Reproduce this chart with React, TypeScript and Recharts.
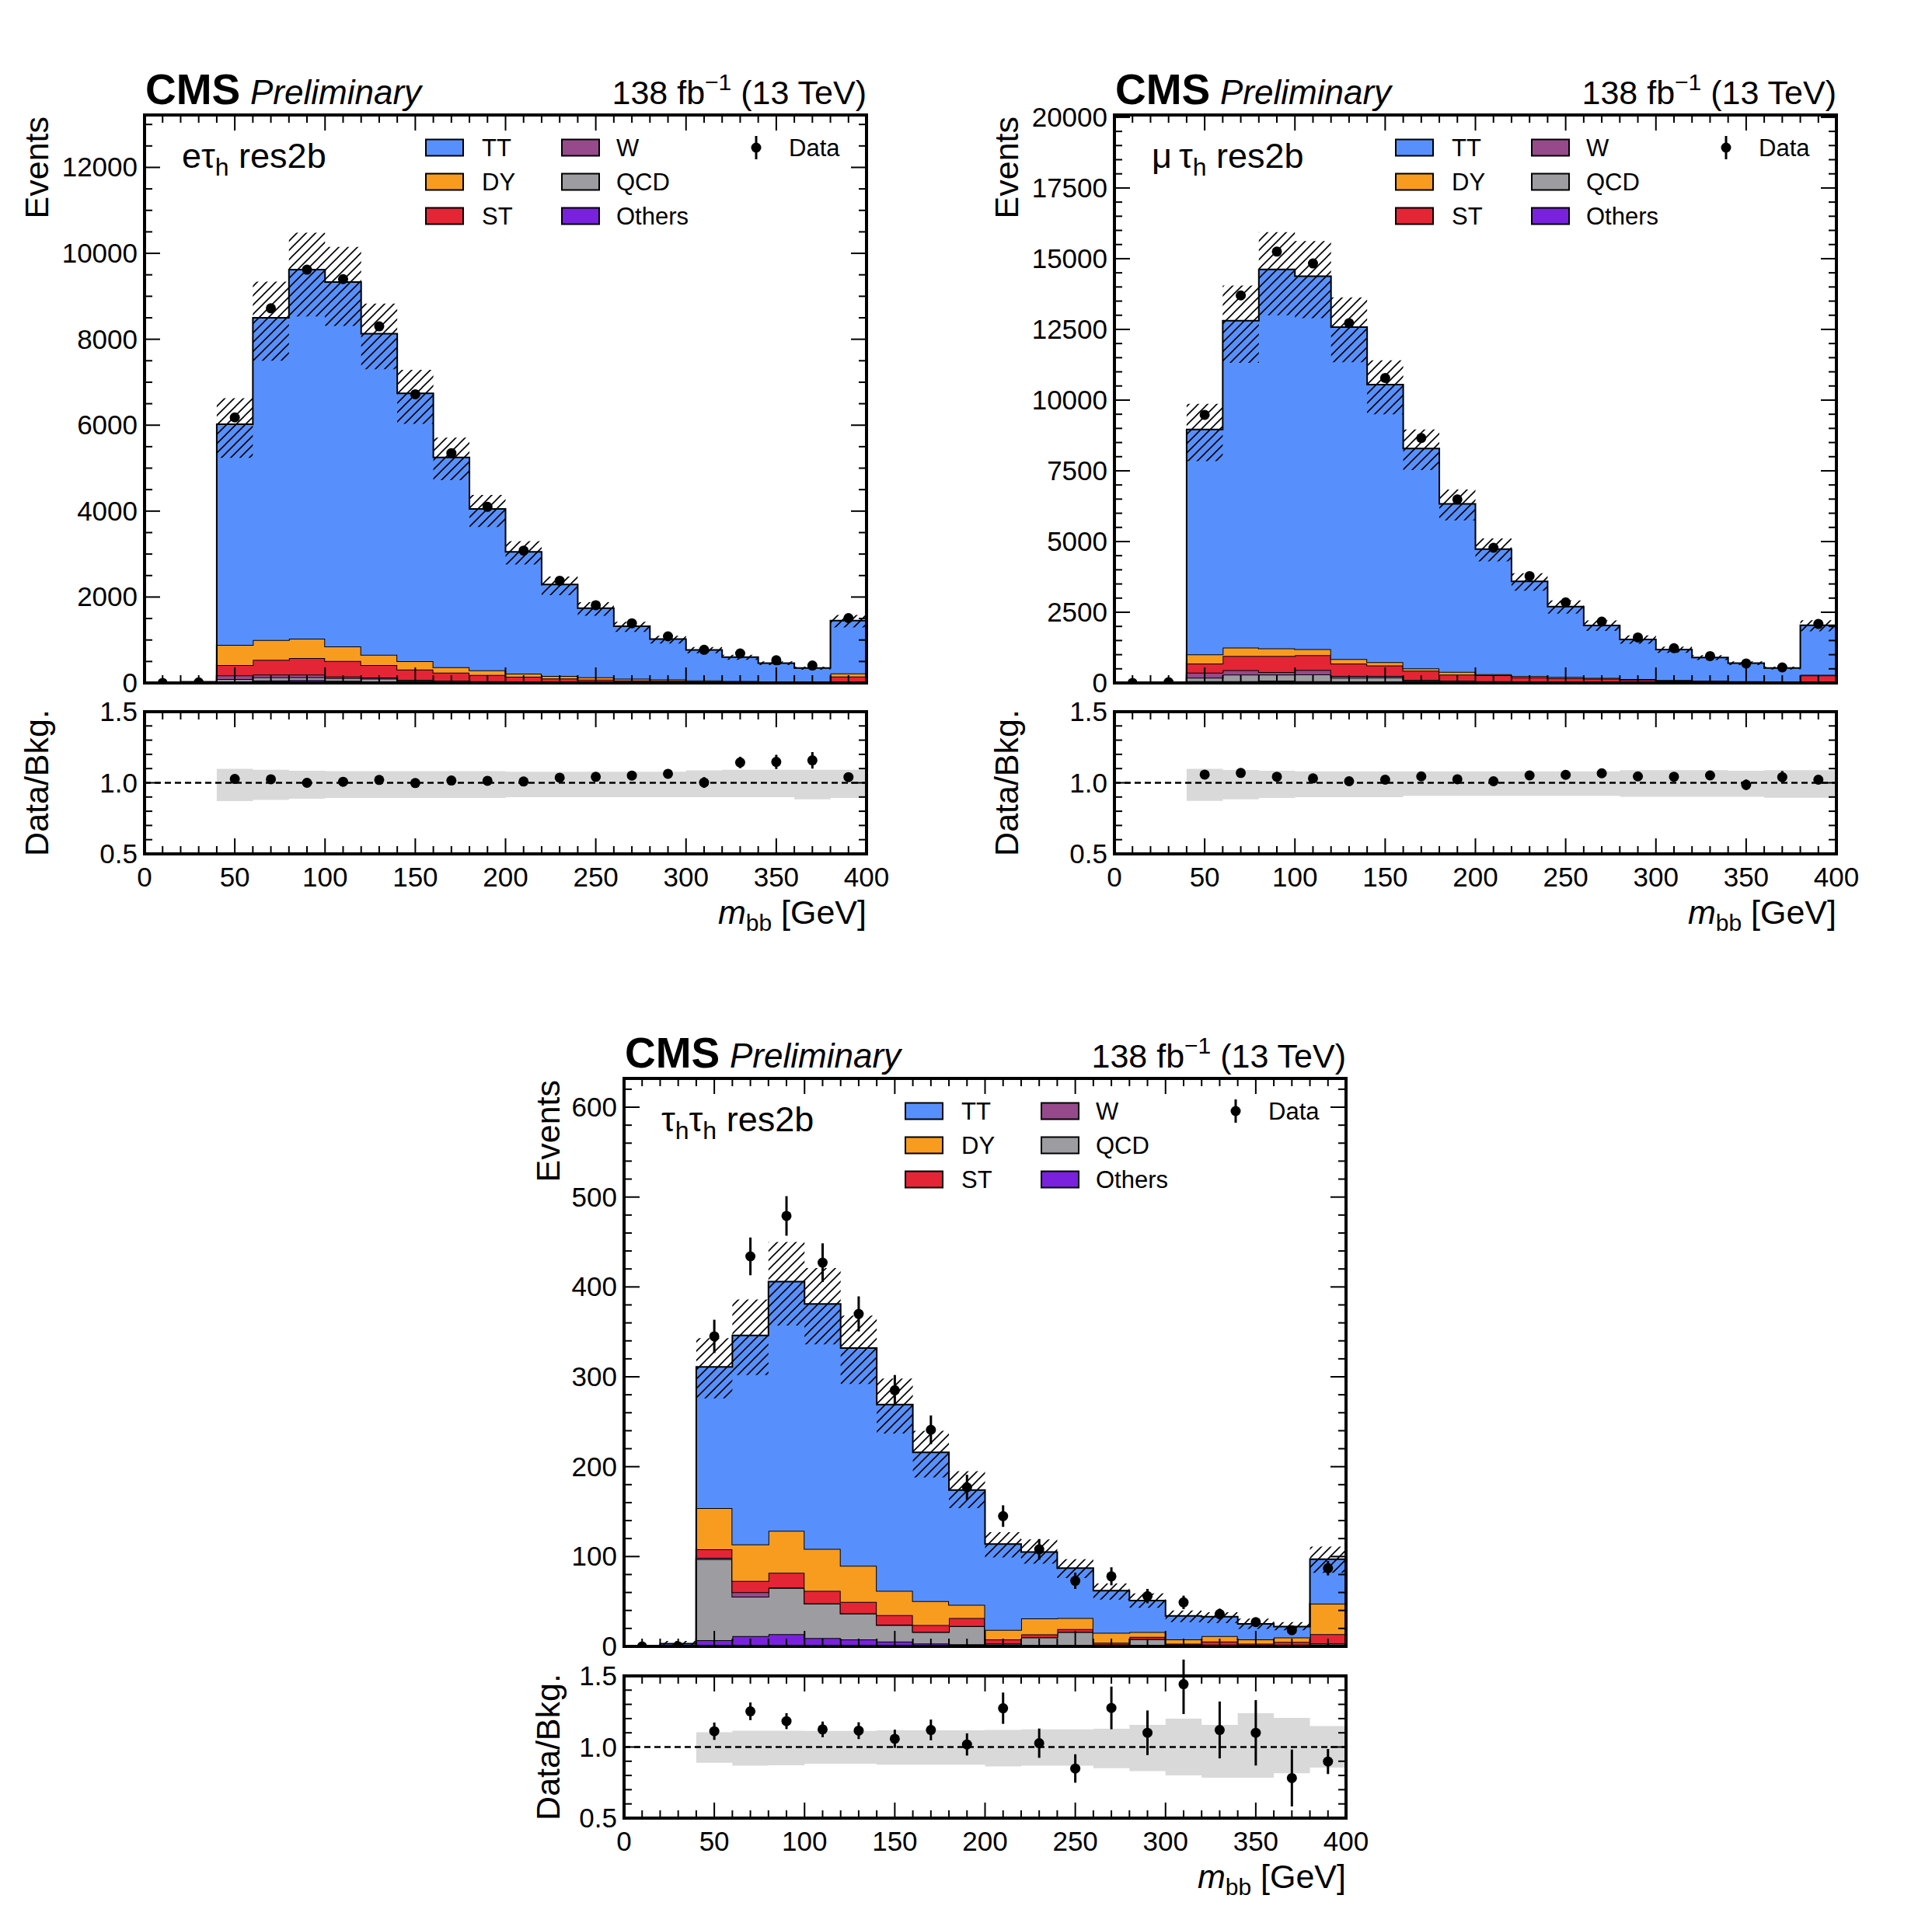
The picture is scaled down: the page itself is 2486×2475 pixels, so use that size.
import React from "react";
import { Area, ComposedChart, ErrorBar, ReferenceLine, Scatter, XAxis, YAxis } from "recharts";

const FONT = '"Liberation Sans", Arial, Helvetica, sans-serif';

// m_bb binning (20 GeV bins, 0-400)
const BIN_LO = [0, 20, 40, 60, 80, 100, 120, 140, 160, 180, 200, 220, 240, 260, 280, 300, 320, 340, 360, 380];
const BIN_MID = [10, 30, 50, 70, 90, 110, 130, 150, 170, 190, 210, 230, 250, 270, 290, 310, 330, 350, 370, 390];
const X_MAJOR = [0, 50, 100, 150, 200, 250, 300, 350, 400];
const RATIO_MAJOR = [0.5, 1.0, 1.5];
const ET_Y_MAJOR = [0, 2000, 4000, 6000, 8000, 10000, 12000];
const MT_Y_MAJOR = [0, 2500, 5000, 7500, 10000, 12500, 15000, 17500, 20000];
const HH_Y_MAJOR = [0, 100, 200, 300, 400, 500, 600];

// e tau_h
const ET_TT = [3, 18, 5135, 7500, 8590, 8480, 7473, 6234, 4883, 3755, 2833, 2127, 1607, 1220, 940, 710, 555, 425, 322, 1230];
const ET_DY = [1, 4, 470, 464, 452, 338, 241, 193, 126, 108, 72, 61, 55, 40, 32, 22, 15, 10, 8, 70];
const ET_ST = [0, 2, 240, 343, 385, 362, 291, 241, 187, 147, 115, 80, 61, 47, 38, 30, 24, 20, 16, 140];
const ET_W = [0, 0, 85, 60, 60, 36, 25, 12, 9, 8, 5, 4, 3, 3, 2, 2, 1, 1, 1, 2];
const ET_QCD = [0, 1, 60, 73, 63, 64, 70, 40, 33, 24, 20, 14, 11, 8, 6, 5, 4, 3, 2, 6];
const ET_OTHERS = [0, 0, 30, 60, 70, 50, 30, 20, 12, 8, 5, 4, 3, 2, 2, 1, 1, 1, 1, 2];
const ET_DATA = [2, 12, 6180, 8720, 9620, 9400, 8300, 6720, 5350, 4100, 3080, 2380, 1810, 1390, 1085, 772, 686, 528, 405, 1510];
const ET_DATA_ERR = [1, 3, 79, 93, 98, 97, 91, 82, 73, 64, 55, 49, 43, 37, 33, 28, 26, 23, 20, 39];
const ET_UNC_LO = [1, 10, 5240, 7500, 8530, 8310, 7300, 6030, 4720, 3630, 2760, 2045, 1563, 1187, 917, 692, 539, 414, 309, 1295];
const ET_UNC_HI = [6, 35, 6630, 9340, 10480, 10150, 8830, 7290, 5710, 4375, 3300, 2478, 1879, 1423, 1100, 837, 655, 502, 382, 1583];
const ET_RATIO = [1.027, 1.025, 1.0, 1.007, 1.02, 0.998, 1.016, 1.014, 1.009, 1.036, 1.042, 1.051, 1.063, 1.002, 1.143, 1.147, 1.158, 1.04];
const ET_RATIO_ERR = [0.014, 0.012, 0.011, 0.011, 0.012, 0.013, 0.015, 0.017, 0.019, 0.022, 0.025, 0.029, 0.033, 0.038, 0.04, 0.05, 0.058, 0.027];
const ET_BAND_LO = [0.871, 0.88, 0.888, 0.893, 0.893, 0.893, 0.893, 0.893, 0.899, 0.899, 0.899, 0.899, 0.899, 0.899, 0.899, 0.899, 0.884, 0.893];
const ET_BAND_HI = [1.098, 1.091, 1.085, 1.082, 1.082, 1.082, 1.082, 1.082, 1.078, 1.078, 1.078, 1.078, 1.078, 1.087, 1.092, 1.092, 1.092, 1.092];

// mu tau_h
const MT_TT = [3, 24, 7950, 11560, 13400, 13185, 11735, 9815, 7775, 5935, 4418, 3350, 2490, 1850, 1400, 1080, 820, 640, 482, 1750];
const MT_DY = [1, 3, 320, 296, 266, 213, 157, 120, 83, 100, 37, 38, 36, 30, 25, 15, 12, 8, 6, 20];
const MT_ST = [0, 2, 323, 504, 569, 523, 440, 367, 321, 211, 211, 152, 134, 118, 90, 65, 52, 39, 32, 245];
const MT_W = [0, 0, 184, 156, 91, 156, 65, 55, 20, 15, 10, 8, 6, 5, 4, 3, 2, 2, 1, 3];
const MT_QCD = [0, 1, 119, 230, 211, 239, 137, 153, 65, 50, 40, 32, 26, 21, 16, 13, 11, 9, 7, 18];
const MT_OTHERS = [0, 0, 64, 64, 83, 64, 46, 40, 25, 18, 14, 10, 8, 6, 5, 4, 3, 2, 2, 4];
const MT_DATA = [3, 25, 9480, 13700, 15250, 14830, 12720, 10780, 8660, 6490, 4780, 3780, 2850, 2170, 1610, 1230, 950, 690, 550, 2085];
const MT_DATA_ERR = [2, 5, 97, 117, 123, 122, 113, 104, 93, 81, 69, 61, 53, 47, 40, 35, 31, 26, 23, 46];
const MT_UNC_LO = [2, 15, 7840, 11320, 13000, 12900, 11340, 9500, 7530, 5750, 4300, 3260, 2450, 1840, 1390, 1065, 810, 630, 475, 1825];
const MT_UNC_HI = [7, 45, 9870, 14050, 15940, 15620, 13630, 11410, 8960, 6840, 5110, 3880, 2920, 2210, 1680, 1285, 980, 760, 577, 2220];
const MT_RATIO = [1.058, 1.069, 1.043, 1.031, 1.011, 1.022, 1.045, 1.025, 1.011, 1.052, 1.056, 1.067, 1.045, 1.043, 1.052, 0.986, 1.04, 1.022];
const MT_RATIO_ERR = [0.011, 0.009, 0.008, 0.008, 0.009, 0.01, 0.011, 0.013, 0.015, 0.017, 0.019, 0.022, 0.025, 0.029, 0.033, 0.037, 0.043, 0.022];
const MT_BAND_LO = [0.873, 0.884, 0.893, 0.899, 0.899, 0.899, 0.908, 0.908, 0.908, 0.908, 0.908, 0.908, 0.902, 0.902, 0.902, 0.902, 0.895, 0.895];
const MT_BAND_HI = [1.098, 1.09, 1.085, 1.081, 1.081, 1.081, 1.081, 1.081, 1.081, 1.081, 1.081, 1.081, 1.089, 1.089, 1.089, 1.085, 1.089, 1.089];

// tau_h tau_h
const HH_TT = [0.4, 2.5, 157, 232.5, 277.4, 272.5, 242.3, 207.2, 165.7, 127.8, 95.7, 73.9, 55.4, 46.9, 35, 26.2, 21.6, 17.2, 12, 49.4];
const HH_DY = [0.1, 0.5, 46, 40.7, 46.6, 46.7, 40.3, 27, 26.5, 14.6, 10.5, 17.8, 12.4, 11.1, 5.5, 4.8, 5.9, 4.8, 5, 33.9];
const HH_ST = [0, 0, 9.5, 12.4, 16.5, 13.8, 12.4, 10.6, 7.5, 9, 4.6, 3, 2.9, 1.8, 2.3, 0.9, 3.5, 1.5, 3, 10.3];
const HH_W = [0, 0, 1.5, 5, 0.5, 0.4, 0.4, 0.4, 0.3, 0.2, 0.2, 0.3, 0.3, 0.2, 0.2, 0.1, 0.1, 0.1, 0.1, 0.4];
const HH_QCD = [0, 0, 90.1, 44, 51.3, 38.4, 28.8, 18.3, 12.8, 20.1, 2, 9, 15, 1.5, 7.5, 1.5, 1.4, 0.9, 1.4, 2.2];
const HH_OTHERS = [0, 0, 6.9, 11.4, 13.7, 9.2, 7.8, 5.5, 3.2, 2.3, 1, 1, 1, 0.5, 0.5, 0.5, 0.5, 0.5, 0.5, 0.8];
const HH_DATA = [0, 0, 345, 434, 479, 427, 370, 285, 241, 177, 145, 108, 73, 78, 56, 49, 36, 27, 18, 87];
const HH_DATA_ERR = [0, 0, 18.5, 21, 22, 21.5, 19.5, 17, 16, 14, 12, 11.5, 9, 10, 8, 7.5, 6, 5, 4.5, 8];
const HH_UNC_LO = [0, 1, 276, 302, 357, 336, 292, 237, 188, 154, 99, 92, 76, 52, 43, 27, 26, 19.5, 18, 82];
const HH_UNC_HI = [1, 6, 343, 386, 450, 421, 368, 298, 240, 195, 127, 119, 97, 70, 59, 40, 38, 31, 27, 111];
const HH_RATIO = [1.111, 1.251, 1.182, 1.124, 1.115, 1.058, 1.12, 1.018, 1.273, 1.027, 0.849, 1.275, 1.1, 1.442, 1.12, 1.1, 0.782, 0.898];
const HH_RATIO_ERR = [0.061, 0.062, 0.056, 0.055, 0.059, 0.064, 0.073, 0.078, 0.11, 0.103, 0.1, 0.15, 0.157, 0.21, 0.2, 0.23, 0.2, 0.088];
const HH_BAND_LO = [0.889, 0.869, 0.871, 0.882, 0.882, 0.876, 0.876, 0.876, 0.864, 0.869, 0.869, 0.851, 0.831, 0.8, 0.784, 0.784, 0.815, 0.855];
const HH_BAND_HI = [1.104, 1.115, 1.115, 1.113, 1.113, 1.118, 1.118, 1.118, 1.12, 1.125, 1.125, 1.129, 1.156, 1.2, 1.156, 1.238, 1.205, 1.147];

// stack order, bottom first
const PROCESSES = [
  { key: "Others", color: "#7a21dd" },
  { key: "QCD", color: "#9c9ca1" },
  { key: "W", color: "#964a8b" },
  { key: "ST", color: "#e42536" },
  { key: "DY", color: "#f89c20" },
  { key: "TT", color: "#5790fc" },
];
const LEGEND_COLS = [["TT", "DY", "ST"], ["W", "QCD", "Others"]];

const PLOT_W = 929;
const MAIN_H = 731;
const RATIO_H = 183;
// each axis is 1px thick, so the plot box sits 1px inside the margins
const AX = 1;
const M_MAIN = { top: 20, right: 40, bottom: 20, left: 170 };
const M_RATIO = { top: 20, right: 40, bottom: 60, left: 170 };
const FRAME = { stroke: "#000", strokeWidth: 4, strokeLinecap: "square" as const };

const range = (a: number, b: number, s: number) => {
  const out: number[] = [];
  for (let v = a; v <= b + 1e-9; v += s) out.push(Math.round(v * 1000) / 1000);
  return out;
};
const X_MINOR = range(0, 400, 10);
const RATIO_MINOR = range(0.5, 1.5, 0.1);

type Chan = {
  key: string;
  label: [string, boolean][];
  left: number;
  top: number;
  ratioTop: number;
  titleX: number;
  yMax: number;
  yMajor: number[];
  yMinor: number[];
  comps: Record<string, number[]>;
  data: number[];
  dataErr: number[];
  uncLo: number[];
  uncHi: number[];
  ratio: number[];
  ratioErr: number[];
  bandLo: number[];
  bandHi: number[];
};

const CHANNELS: Chan[] = [
  {
    key: "et",
    label: [["e\u03c4", false], ["h", true], [" res2b", false]],
    left: 186, top: 148, ratioTop: 916, titleX: 62,
    yMax: 13220, yMajor: ET_Y_MAJOR, yMinor: range(0, 13000, 500),
    comps: { TT: ET_TT, DY: ET_DY, ST: ET_ST, W: ET_W, QCD: ET_QCD, Others: ET_OTHERS },
    data: ET_DATA, dataErr: ET_DATA_ERR, uncLo: ET_UNC_LO, uncHi: ET_UNC_HI,
    ratio: ET_RATIO, ratioErr: ET_RATIO_ERR, bandLo: ET_BAND_LO, bandHi: ET_BAND_HI,
  },
  {
    key: "mt",
    label: [["\u03bc\u2009\u03c4", false], ["h", true], [" res2b", false]],
    left: 1434, top: 148, ratioTop: 916, titleX: 1310,
    yMax: 20080, yMajor: MT_Y_MAJOR, yMinor: range(0, 20000, 500),
    comps: { TT: MT_TT, DY: MT_DY, ST: MT_ST, W: MT_W, QCD: MT_QCD, Others: MT_OTHERS },
    data: MT_DATA, dataErr: MT_DATA_ERR, uncLo: MT_UNC_LO, uncHi: MT_UNC_HI,
    ratio: MT_RATIO, ratioErr: MT_RATIO_ERR, bandLo: MT_BAND_LO, bandHi: MT_BAND_HI,
  },
  {
    key: "hh",
    label: [["\u03c4", false], ["h", true], ["\u03c4", false], ["h", true], [" res2b", false]],
    left: 803, top: 1388, ratioTop: 2157, titleX: 720,
    yMax: 632, yMajor: HH_Y_MAJOR, yMinor: range(0, 620, 20),
    comps: { TT: HH_TT, DY: HH_DY, ST: HH_ST, W: HH_W, QCD: HH_QCD, Others: HH_OTHERS },
    data: HH_DATA, dataErr: HH_DATA_ERR, uncLo: HH_UNC_LO, uncHi: HH_UNC_HI,
    ratio: HH_RATIO, ratioErr: HH_RATIO_ERR, bandLo: HH_BAND_LO, bandHi: HH_BAND_HI,
  },
];

function FrameTick(props: any) {
  const { x, y, payload, side, major, label, fmt } = props;
  const v = payload?.value ?? 0;
  const isMajor = major.some((m: number) => Math.abs(m - v) < 1e-6);
  const len = isMajor ? 20 : 10;
  const d: Record<string, [number, number]> = { bottom: [0, -len], top: [0, len], left: [len, 0], right: [-len, 0] };
  const [dx, dy] = d[side];
  return (
    <g>
      <line x1={x} y1={y} x2={x + dx} y2={y + dy} stroke="#000" strokeWidth={2} />
      {label && isMajor && side === "bottom" && (
        <text x={x} y={y + 42} textAnchor="middle" fontSize={35} fontFamily={FONT} fill="#000">
          {fmt(v)}
        </text>
      )}
      {label && isMajor && side === "left" && (
        <text x={x - 9} y={y + 12} textAnchor="end" fontSize={35} fontFamily={FONT} fill="#000">
          {fmt(v)}
        </text>
      )}
    </g>
  );
}

const dot = (p: any) => <circle cx={p.cx} cy={p.cy} r={6.5} fill="#000" />;

function axes(yMin: number, yMax: number, yMajor: number[], yMinor: number[], xLabels: boolean, yFmt: (v: number) => string) {
  const common = { type: "number" as const, allowDataOverflow: true, interval: 0 as const, tickSize: 0, tickMargin: 0, tickLine: false, axisLine: FRAME };
  return [
    <XAxis key="xb" xAxisId="b" dataKey="x" orientation="bottom" domain={[0, 400]} ticks={X_MINOR} height={AX} {...common}
      tick={<FrameTick side="bottom" major={X_MAJOR} label={xLabels} fmt={(v: number) => String(v)} />} />,
    <XAxis key="xt" xAxisId="t" dataKey="x" orientation="top" domain={[0, 400]} ticks={X_MINOR} height={AX} {...common}
      tick={<FrameTick side="top" major={X_MAJOR} />} />,
    <YAxis key="yl" yAxisId="l" orientation="left" domain={[yMin, yMax]} ticks={yMinor} width={AX} {...common}
      tick={<FrameTick side="left" major={yMajor} label fmt={yFmt} />} />,
    <YAxis key="yr" yAxisId="r" orientation="right" domain={[yMin, yMax]} ticks={yMinor} width={AX} {...common}
      tick={<FrameTick side="right" major={yMajor} />} />,
  ];
}

function MainPanel({ ch }: { ch: Chan }) {
  const rows = BIN_LO.map((x, i) => {
    const r: Record<string, any> = { x, unc: [ch.uncLo[i], ch.uncHi[i]] };
    PROCESSES.forEach((p) => (r[p.key] = ch.comps[p.key][i]));
    return r;
  });
  rows.push({ ...rows[rows.length - 1], x: 400 });
  const points = BIN_MID.map((x, i) => ({ x, y: ch.data[i], e: ch.dataErr[i] }));
  const hatchId = `hatch-${ch.key}`;
  return (
    <div style={{ position: "absolute", left: ch.left - M_MAIN.left - AX, top: ch.top - M_MAIN.top - AX }}>
      <ComposedChart
        width={PLOT_W + M_MAIN.left + M_MAIN.right + 2 * AX}
        height={MAIN_H + M_MAIN.top + M_MAIN.bottom + 2 * AX}
        data={rows}
        margin={M_MAIN}
      >
        <defs>
          <pattern id={hatchId} width={12} height={12} patternUnits="userSpaceOnUse">
            <path d="M-3,3 L3,-3 M0,12 L12,0 M9,15 L15,9" stroke="#000" strokeWidth={1.6} />
          </pattern>
        </defs>
        {PROCESSES.map((p) => (
          <Area key={p.key} xAxisId="b" yAxisId="l" dataKey={p.key} stackId="bkg" type="stepAfter"
            fill={p.color} fillOpacity={1} stroke="#000" strokeWidth={2}
            dot={false} activeDot={false} isAnimationActive={false} />
        ))}
        <Area xAxisId="b" yAxisId="l" dataKey="unc" type="stepAfter" fill={`url(#${hatchId})`} fillOpacity={1}
          stroke="none" dot={false} activeDot={false} isAnimationActive={false} />
        <Scatter xAxisId="b" yAxisId="l" data={points} dataKey="y" shape={dot} isAnimationActive={false}>
          <ErrorBar dataKey="e" direction="y" width={0} stroke="#000" strokeWidth={3} />
        </Scatter>
        {axes(0, ch.yMax, ch.yMajor, ch.yMinor, false, (v) => String(v))}
      </ComposedChart>
    </div>
  );
}

function RatioPanel({ ch }: { ch: Chan }) {
  const rows = BIN_LO.slice(2).map((x, i) => ({ x, band: [ch.bandLo[i], ch.bandHi[i]] }));
  rows.push({ ...rows[rows.length - 1], x: 400 });
  const points = BIN_MID.slice(2).map((x, i) => ({ x, y: ch.ratio[i], e: ch.ratioErr[i] }));
  return (
    <div style={{ position: "absolute", left: ch.left - M_RATIO.left - AX, top: ch.ratioTop - M_RATIO.top - AX }}>
      <ComposedChart
        width={PLOT_W + M_RATIO.left + M_RATIO.right + 2 * AX}
        height={RATIO_H + M_RATIO.top + M_RATIO.bottom + 2 * AX}
        data={rows}
        margin={M_RATIO}
      >
        <Area xAxisId="b" yAxisId="l" dataKey="band" type="stepAfter" fill="#d9d9d9" fillOpacity={1} stroke="none"
          dot={false} activeDot={false} isAnimationActive={false} />
        <ReferenceLine xAxisId="b" yAxisId="l" y={1} stroke="#000" strokeWidth={2.5} strokeDasharray="8 5" />
        <Scatter xAxisId="b" yAxisId="l" data={points} dataKey="y" shape={dot} isAnimationActive={false}>
          <ErrorBar dataKey="e" direction="y" width={0} stroke="#000" strokeWidth={3} />
        </Scatter>
        {axes(0.5, 1.5, RATIO_MAJOR, RATIO_MINOR, true, (v) => v.toFixed(1))}
      </ComposedChart>
    </div>
  );
}

function PanelText({ ch }: { ch: Chan }) {
  const L = ch.left;
  const T = ch.top;
  const R = L + PLOT_W;
  const colors: Record<string, string> = {};
  PROCESSES.forEach((p) => (colors[p.key] = p.color));
  const colX = [L + 362, L + 537];
  const txtX = [L + 434, L + 607];
  const rowY = [T + 42, T + 86, T + 130];
  return (
    <g fontFamily={FONT} fill="#000">
      <text x={L + 1} y={T - 14} fontSize={55} fontWeight="bold">CMS</text>
      <text x={L + 136} y={T - 14} fontSize={44} fontStyle="italic">Preliminary</text>
      <text x={R} y={T - 14} fontSize={43} textAnchor="end">
        138 fb<tspan dy={-18} fontSize={30}>{"\u22121"}</tspan>
        <tspan dy={18}> (13 TeV)</tspan>
      </text>
      <text x={L + 48} y={T + 68} fontSize={45}>
        {ch.label.map(([s, sub], i) => (
          <tspan key={i} dy={sub ? 10 : i > 0 && ch.label[i - 1][1] ? -10 : 0} fontSize={sub ? 32 : 45}>{s}</tspan>
        ))}
      </text>
      {LEGEND_COLS.map((col, c) =>
        col.map((name, r) => (
          <g key={name}>
            <rect x={colX[c]} y={rowY[r] - 10.5} width={48} height={21} fill={colors[name]} stroke="#000" strokeWidth={2} />
            <text x={txtX[c]} y={rowY[r] + 11} fontSize={31}>{name}</text>
          </g>
        ))
      )}
      <line x1={L + 787} x2={L + 787} y1={rowY[0] - 15} y2={rowY[0] + 15} stroke="#000" strokeWidth={3} />
      <circle cx={L + 787} cy={rowY[0]} r={6.5} fill="#000" />
      <text x={L + 829} y={rowY[0] + 11} fontSize={31}>Data</text>
      <text transform={`translate(${ch.titleX},${T + 2}) rotate(-90)`} textAnchor="end" fontSize={43}>Events</text>
      <text transform={`translate(${ch.titleX},${ch.ratioTop + RATIO_H / 2}) rotate(-90)`} textAnchor="middle" fontSize={43}>Data/Bkg.</text>
      <text x={R} y={ch.ratioTop + RATIO_H + 90} textAnchor="end" fontSize={43}>
        <tspan fontStyle="italic">m</tspan>
        <tspan dy={9} fontSize={30}>bb</tspan>
        <tspan dy={-9}> [GeV]</tspan>
      </text>
    </g>
  );
}

export default function App() {
  return (
    <div style={{ position: "absolute", left: 0, top: 0, width: 2486, height: 2475, background: "#fff", overflow: "hidden" }}>
      {CHANNELS.map((ch) => (
        <React.Fragment key={ch.key}>
          <MainPanel ch={ch} />
          <RatioPanel ch={ch} />
        </React.Fragment>
      ))}
      <svg width={2486} height={2475} style={{ position: "absolute", left: 0, top: 0, pointerEvents: "none" }}>
        {CHANNELS.map((ch) => (
          <PanelText key={ch.key} ch={ch} />
        ))}
      </svg>
    </div>
  );
}
